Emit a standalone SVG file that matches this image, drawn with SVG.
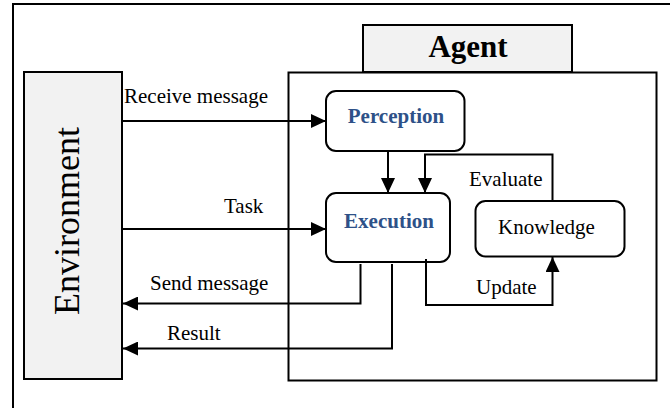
<svg xmlns="http://www.w3.org/2000/svg" width="670" height="408" viewBox="0 0 670 408">
<defs>
<marker id="ah" viewBox="0 0 15 14" refX="15" refY="7" markerWidth="15" markerHeight="14" markerUnits="userSpaceOnUse" orient="auto">
<path d="M0,0 L15,7 L0,14 Z" fill="#000"/>
</marker>
<style>
.box{fill:#fff;stroke:#000;stroke-width:2}
.grey{fill:#f2f2f2;stroke:#000;stroke-width:2}
.conn{fill:none;stroke:#000;stroke-width:2;marker-end:url(#ah)}
.lbl{font-family:"Liberation Serif","Times New Roman",serif;font-size:21px;fill:#000}
.blue{font-family:"Liberation Serif","Times New Roman",serif;font-size:21px;font-weight:bold;fill:#2e5188}
</style>
</defs>
<rect x="0" y="0" width="670" height="408" fill="#fff"/>
<rect x="13" y="4" width="700" height="450" fill="none" stroke="#000" stroke-width="2"/>
<g id="agent">
<rect class="grey" x="363" y="25" width="209" height="47"/>
<rect class="box" x="288.5" y="72.5" width="368" height="308"/>
<text x="468" y="57" text-anchor="middle" font-family="Liberation Serif, Times New Roman, serif" font-size="31" font-weight="bold">Agent</text>
</g>
<g id="environment">
<rect class="grey" x="24" y="72" width="98" height="307"/>
<text transform="translate(79,221) rotate(-90)" text-anchor="middle" font-family="Liberation Serif, Times New Roman, serif" font-size="36">Environment</text>
</g>
<g id="perception">
<rect class="box" x="326" y="91" width="138.5" height="60" rx="10"/>
<text class="blue" x="396" y="123" text-anchor="middle">Perception</text>
</g>
<g id="execution">
<rect class="box" x="326" y="193" width="124" height="69" rx="10"/>
<text class="blue" x="389" y="228" text-anchor="middle">Execution</text>
</g>
<g id="knowledge">
<rect class="box" x="475.5" y="201" width="149" height="55.5" rx="10"/>
<text class="lbl" x="546.5" y="234" text-anchor="middle">Knowledge</text>
</g>
<g id="connectors">
<path class="conn" d="M122,121 H326"/>
<path class="conn" d="M122,229 H326"/>
<path class="conn" d="M388,151 V193"/>
<path class="conn" d="M552.5,201 V154.5 H425 V193"/>
<path class="conn" d="M426,259 V305 H552.5 V257"/>
<path class="conn" d="M360.5,264 V303.5 H123"/>
<path class="conn" d="M392,264 V348.5 H123"/>
<text class="lbl" x="124" y="103">Receive message</text>
<text class="lbl" x="224" y="213">Task</text>
<text class="lbl" x="469" y="186">Evaluate</text>
<text class="lbl" x="476" y="294">Update</text>
<text class="lbl" x="150" y="290">Send message</text>
<text class="lbl" x="167" y="340">Result</text>
</g>
</svg>
